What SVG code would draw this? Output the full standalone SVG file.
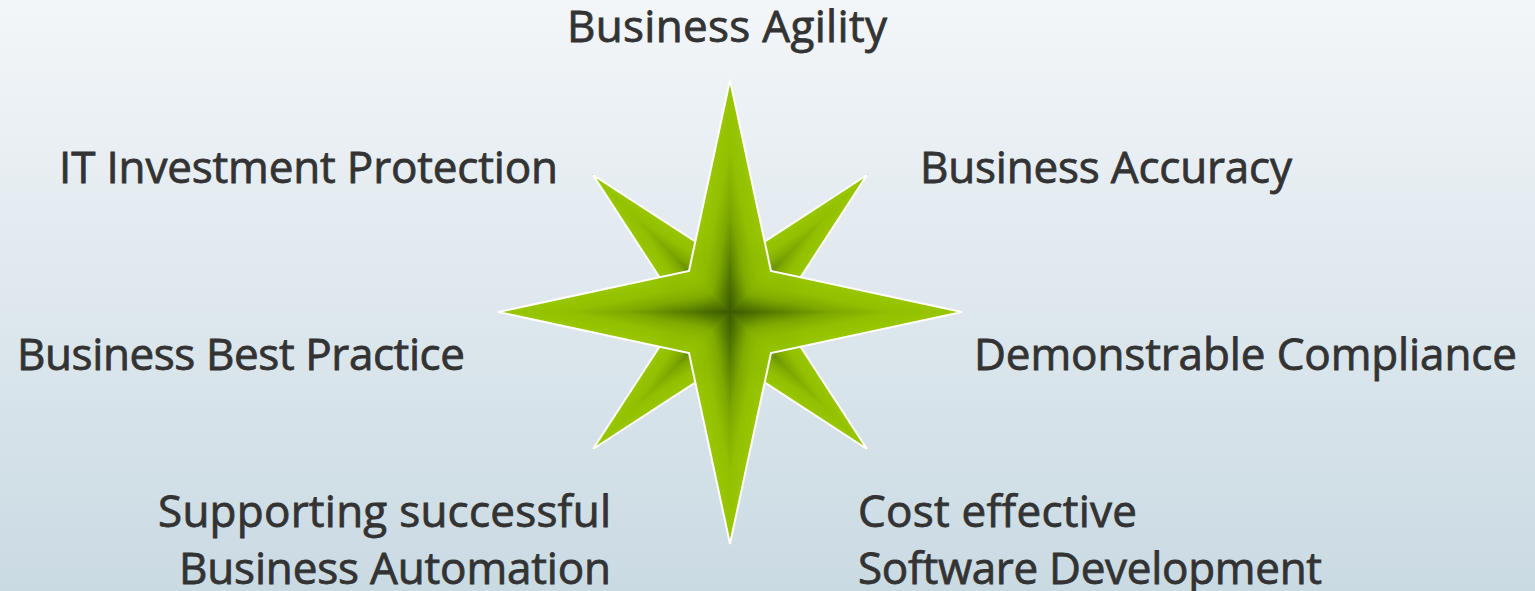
<svg xmlns="http://www.w3.org/2000/svg" xmlns:xlink="http://www.w3.org/1999/xlink" width="1535" height="591" viewBox="0 0 1535 591">
  <defs>
    <linearGradient id="bg" x1="0" y1="0" x2="0" y2="1">
      <stop offset="0" stop-color="#f3f6f9"/>
      <stop offset="1" stop-color="#cadae3"/>
    </linearGradient>
    <linearGradient id="gm" gradientUnits="userSpaceOnUse" x1="41" y1="-41" x2="-6.6" y2="-30.8">
      <stop offset="0" stop-color="#99c700"/>
      <stop offset="0.3" stop-color="#92bf00"/>
      <stop offset="0.55" stop-color="#7ea800"/>
      <stop offset="0.8" stop-color="#587e00"/>
      <stop offset="1" stop-color="#3b5800"/>
    </linearGradient>
    <linearGradient id="gd" gradientUnits="userSpaceOnUse" x1="33.9" y1="-33.9" x2="-5.4" y2="-25.6">
      <stop offset="0" stop-color="#99c700"/>
      <stop offset="0.3" stop-color="#92bf00"/>
      <stop offset="0.55" stop-color="#7ea800"/>
      <stop offset="0.8" stop-color="#587e00"/>
      <stop offset="1" stop-color="#3b5800"/>
    </linearGradient>
    <radialGradient id="gk" cx="0.5" cy="0.5" r="0.5">
      <stop offset="0" stop-color="#96c300" stop-opacity="0.8"/>
      <stop offset="0.5" stop-color="#8cb700" stop-opacity="0.4"/>
      <stop offset="1" stop-color="#8cb700" stop-opacity="0"/>
    </radialGradient>
    <clipPath id="clipMain">
      <polygon points="0,-232 41,-41 232,0 41,41 0,232 -41,41 -232,0 -41,-41"/>
    </clipPath>
    <path id="hm" d="M0,0 L0,-232 L41,-41 Z" fill="url(#gm)" stroke="url(#gm)" stroke-width="0.6"/>
    <path id="hd" d="M0,0 L0,-194 L33.9,-33.9 Z" fill="url(#gd)" stroke="url(#gd)" stroke-width="0.6"/>
    <style>
      .lbl { font-family: "Open Sans", "DejaVu Sans", sans-serif; font-size: 44px; fill: #333333; stroke: #333333; stroke-width: 0.8px; }
      .outline { fill: none; stroke: #ffffff; stroke-width: 2; stroke-linejoin: miter; }
    </style>
  </defs>

  <rect x="0" y="0" width="1535" height="591" fill="url(#bg)"/>

  <g id="star" transform="translate(730,312)">
    <g id="diagonal-star">
      <polygon points="0,-48 137,-137 48,0 137,137 0,48 -137,137 -48,0 -137,-137" fill="#7ea800"/>
      <use xlink:href="#hd" transform="rotate(45)"/>
      <use xlink:href="#hd" transform="rotate(45) scale(-1,1)"/>
      <use xlink:href="#hd" transform="rotate(135)"/>
      <use xlink:href="#hd" transform="rotate(135) scale(-1,1)"/>
      <use xlink:href="#hd" transform="rotate(225)"/>
      <use xlink:href="#hd" transform="rotate(225) scale(-1,1)"/>
      <use xlink:href="#hd" transform="rotate(315)"/>
      <use xlink:href="#hd" transform="rotate(315) scale(-1,1)"/>
      <polygon class="outline" points="0,-48 137,-137 48,0 137,137 0,48 -137,137 -48,0 -137,-137"/>
    </g>
    <g id="main-star">
      <polygon points="0,-232 41,-41 232,0 41,41 0,232 -41,41 -232,0 -41,-41" fill="#7ea800"/>
      <use xlink:href="#hm"/>
      <use xlink:href="#hm" transform="scale(-1,1)"/>
      <use xlink:href="#hm" transform="rotate(90)"/>
      <use xlink:href="#hm" transform="rotate(90) scale(-1,1)"/>
      <use xlink:href="#hm" transform="rotate(180)"/>
      <use xlink:href="#hm" transform="rotate(180) scale(-1,1)"/>
      <use xlink:href="#hm" transform="rotate(270)"/>
      <use xlink:href="#hm" transform="rotate(270) scale(-1,1)"/>
      <g clip-path="url(#clipMain)">
        <circle cx="41" cy="-41" r="40" fill="url(#gk)"/>
        <circle cx="41" cy="41" r="40" fill="url(#gk)"/>
        <circle cx="-41" cy="41" r="40" fill="url(#gk)"/>
        <circle cx="-41" cy="-41" r="40" fill="url(#gk)"/>
      </g>
      <polygon class="outline" points="0,-232 41,-41 232,0 41,41 0,232 -41,41 -232,0 -41,-41"/>
    </g>
  </g>

  <g id="connectors"></g>

  <g id="label-business-agility">
    <text class="lbl" x="567" y="42" textLength="320">Business Agility</text>
  </g>
  <g id="label-it-investment-protection">
    <text class="lbl" x="59" y="183" textLength="499">IT Investment Protection</text>
  </g>
  <g id="label-business-accuracy">
    <text class="lbl" x="920" y="183" textLength="372">Business Accuracy</text>
  </g>
  <g id="label-business-best-practice">
    <text class="lbl" x="17" y="370" textLength="448">Business Best Practice</text>
  </g>
  <g id="label-demonstrable-compliance">
    <text class="lbl" x="974" y="370" textLength="543">Demonstrable Compliance</text>
  </g>
  <g id="label-business-automation">
    <text class="lbl" x="158" y="527" textLength="453">Supporting successful</text>
    <text class="lbl" x="179" y="584" textLength="432">Business Automation</text>
  </g>
  <g id="label-software-development">
    <text class="lbl" x="858" y="527" textLength="279">Cost effective</text>
    <text class="lbl" x="858" y="584" textLength="464">Software Development</text>
  </g>
</svg>
